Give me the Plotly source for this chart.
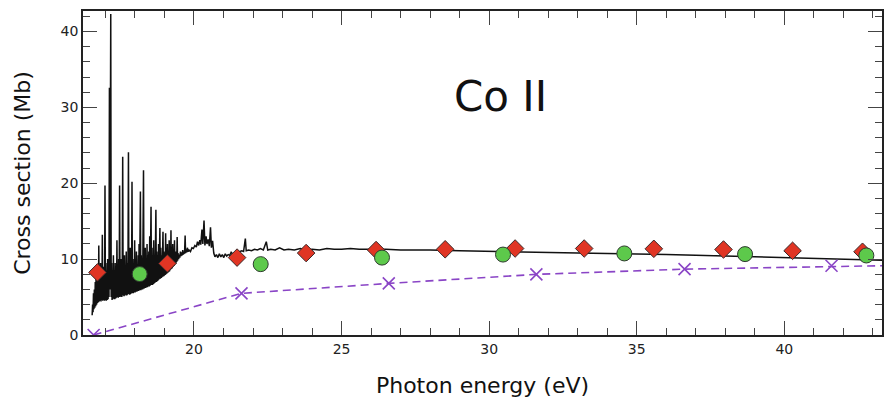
import plotly.graph_objects as go

# ---- Data ----
spec_x = [16.550, 16.565, 16.580, 16.595, 16.610, 16.625, 16.640, 16.655, 16.670, 16.685,
          16.700, 16.715, 16.730, 16.745, 16.760, 16.775, 16.790, 16.805, 16.820, 16.835,
          16.850, 16.865, 16.880, 16.895, 16.910, 16.925, 16.940, 16.955, 16.970, 16.985,
          17.000, 17.015, 17.030, 17.045, 17.060, 17.075, 17.090, 17.105, 17.120, 17.135,
          17.150, 17.165, 17.180, 17.195, 17.210, 17.225, 17.240, 17.255, 17.270, 17.285,
          17.300, 17.315, 17.330, 17.345, 17.360, 17.375, 17.390, 17.405, 17.420, 17.435,
          17.450, 17.465, 17.480, 17.495, 17.510, 17.525, 17.540, 17.555, 17.570, 17.585,
          17.600, 17.615, 17.630, 17.645, 17.660, 17.675, 17.690, 17.705, 17.720, 17.735,
          17.750, 17.765, 17.780, 17.795, 17.810, 17.825, 17.840, 17.855, 17.870, 17.885,
          17.900, 17.915, 17.930, 17.945, 17.960, 17.975, 17.990, 18.005, 18.020, 18.035,
          18.050, 18.065, 18.080, 18.095, 18.110, 18.125, 18.140, 18.155, 18.170, 18.185,
          18.200, 18.215, 18.230, 18.245, 18.260, 18.275, 18.290, 18.305, 18.320, 18.335,
          18.350, 18.365, 18.380, 18.395, 18.410, 18.425, 18.440, 18.455, 18.470, 18.485,
          18.500, 18.515, 18.530, 18.545, 18.560, 18.575, 18.590, 18.605, 18.620, 18.635,
          18.650, 18.665, 18.680, 18.695, 18.710, 18.725, 18.740, 18.755, 18.770, 18.785,
          18.800, 18.815, 18.830, 18.845, 18.860, 18.875, 18.890, 18.905, 18.920, 18.935,
          18.950, 18.965, 18.980, 18.995, 19.010, 19.025, 19.040, 19.055, 19.070, 19.085,
          19.100, 19.115, 19.130, 19.145, 19.160, 19.175, 19.190, 19.205, 19.220, 19.235,
          19.250, 19.265, 19.280, 19.295, 19.310, 19.325, 19.340, 19.355, 19.370, 19.385,
          19.400, 19.415, 19.430, 19.445, 19.460, 19.480, 19.500, 19.520, 19.540, 19.560,
          19.580, 19.600, 19.620, 19.640, 19.660, 19.680, 19.700, 19.715, 19.735, 19.755,
          19.775, 19.800, 19.830, 19.880, 19.930, 19.980, 20.030, 20.080, 20.120, 20.160,
          20.200, 20.230, 20.270, 20.300, 20.340, 20.370, 20.410, 20.440, 20.480, 20.520,
          20.560, 20.590, 20.630, 20.670, 20.710, 20.760, 20.810, 20.860, 20.910, 20.960,
          21.010, 21.060, 21.110, 21.160, 21.210, 21.260, 21.310, 21.360, 21.420, 21.480,
          21.550, 21.620, 21.680, 21.740, 21.770, 21.850, 21.950, 22.050, 22.150, 22.250,
          22.350, 22.450, 22.500, 22.600, 22.750, 22.900, 23.050, 23.200, 23.400, 23.600,
          23.800, 24.000, 24.250, 24.500, 24.750, 25.000, 25.300, 25.600, 26.000, 26.500,
          27.000, 27.500, 28.000, 29.000, 30.000, 31.000, 32.000, 33.000, 34.000, 35.000,
          36.000, 37.000, 38.000, 39.000, 40.000, 41.000, 42.000, 43.000, 43.400]
spec_y = [2.6, 4.0, 3.0, 5.5, 3.4, 6.0, 3.6, 7.0, 3.8, 8.5,
          4.0, 7.5, 4.2, 9.0, 4.3, 11.8, 4.4, 8.0, 4.5, 9.5,
          4.4, 7.5, 4.6, 13.2, 4.5, 9.0, 4.6, 8.0, 4.5, 19.7,
          4.6, 9.5, 4.5, 8.5, 4.6, 10.0, 4.7, 9.0, 5.0, 32.6,
          6.0, 28.0, 42.3, 5.0, 9.5, 4.6, 8.0, 4.7, 10.5, 4.8,
          8.5, 4.7, 9.5, 4.8, 8.0, 4.9, 12.5, 5.0, 9.0, 4.9,
          10.0, 5.0, 19.7, 5.0, 8.5, 5.1, 10.0, 5.0, 9.0, 23.5,
          5.2, 8.5, 5.1, 10.5, 5.2, 9.0, 5.3, 11.0, 5.2, 9.5,
          5.3, 10.0, 24.1, 5.4, 9.0, 5.3, 11.5, 5.4, 9.5, 5.5,
          20.2, 5.5, 10.0, 5.5, 9.0, 5.6, 12.5, 5.6, 9.5, 5.7,
          11.0, 5.7, 9.0, 5.8, 10.5, 5.8, 12.0, 5.9, 10.0, 18.9,
          5.9, 10.5, 6.0, 9.5, 6.0, 12.0, 21.7, 6.1, 10.0, 6.2,
          11.5, 6.2, 9.5, 6.3, 12.0, 6.3, 10.5, 6.4, 11.0, 6.4,
          13.0, 6.5, 10.0, 16.9, 6.6, 11.5, 6.6, 10.5, 6.7, 12.5,
          6.8, 10.0, 6.9, 12.0, 16.5, 7.0, 11.0, 7.1, 10.5, 7.2,
          12.0, 7.3, 11.0, 14.1, 7.4, 11.5, 7.5, 10.5, 7.6, 12.0,
          13.6, 7.7, 11.0, 7.8, 10.5, 7.9, 13.4, 8.0, 11.5, 8.1,
          12.0, 8.2, 10.8, 8.3, 12.5, 8.4, 11.0, 8.6, 13.8, 8.7,
          11.0, 8.8, 12.0, 9.0, 11.0, 9.1, 12.5, 9.3, 11.0, 9.4,
          10.5, 9.6, 12.9, 9.8, 10.8, 10.0, 10.6, 10.2, 11.0, 10.4,
          10.9, 10.5, 11.2, 10.6, 11.0, 10.7, 13.1, 10.8, 11.3, 10.9,
          11.5, 11.0, 11.2, 11.0, 11.5, 11.4, 11.8, 11.6, 12.3, 11.8,
          12.5, 11.9, 13.9, 12.0, 15.1, 11.8, 13.0, 12.0, 12.6, 11.7,
          14.2, 11.5, 12.4, 10.8, 10.3, 10.6, 10.2, 10.7, 10.3, 10.6,
          10.2, 10.7, 10.4, 10.6, 10.5, 10.9, 10.7, 10.8, 10.6, 10.9,
          11.0, 11.1, 11.0, 12.7, 11.1, 11.2, 11.1, 11.3, 11.2, 11.4,
          11.2, 12.3, 11.2, 11.3, 11.2, 11.5, 11.2, 11.3, 11.2, 11.4,
          11.2, 11.3, 11.2, 11.4, 11.3, 11.3, 11.4, 11.3, 11.3, 11.3,
          11.2, 11.2, 11.2, 11.1, 11.0, 10.95, 10.85, 10.8, 10.75, 10.7,
          10.6, 10.5, 10.4, 10.3, 10.2, 10.1, 10.0, 9.9, 9.85]

diamond_x = [16.73, 19.10, 21.46, 23.80, 26.17, 28.51, 30.88, 33.22, 35.58, 37.94, 40.28, 42.65]
diamond_y = [8.25, 9.43, 10.2, 10.8, 11.2, 11.3, 11.4, 11.4, 11.36, 11.27, 11.1, 10.97]

circle_x = [18.16, 22.26, 26.37, 30.47, 34.58, 38.67, 42.78]
circle_y = [8.03, 9.34, 10.2, 10.6, 10.75, 10.66, 10.48]

cross_x = [16.60, 21.61, 26.60, 31.60, 36.62, 41.60, 46.60]
cross_y = [0.0, 5.49, 6.8, 7.99, 8.68, 9.12, 9.35]

title_text = "Co II"
x_label = "Photon energy (eV)"
y_label = "Cross section (Mb)"

FONT = "DejaVu Sans"

fig = go.Figure()
fig.add_trace(go.Scatter(x=spec_x, y=spec_y, mode="lines",
                         line=dict(color="#111111", width=1.5), showlegend=False))
fig.add_trace(go.Scatter(x=cross_x, y=cross_y, mode="lines+markers",
                         line=dict(color="#8a45c6", width=1.6, dash="8px,5px"),
                         marker=dict(symbol="x-thin", size=12,
                                     line=dict(color="#8a45c6", width=1.6)),
                         cliponaxis=True, showlegend=False))
fig.add_trace(go.Scatter(x=diamond_x, y=diamond_y, mode="markers",
                         marker=dict(symbol="diamond", size=13.5, color="#e03524",
                                     line=dict(color="#3a2a2a", width=1)),
                         showlegend=False))
fig.add_trace(go.Scatter(x=circle_x, y=circle_y, mode="markers",
                         marker=dict(symbol="circle", size=15, color="#5dc94b",
                                     line=dict(color="#2f3a2f", width=1)),
                         showlegend=False))

fig.add_annotation(x=0.523, y=0.735, xref="paper", yref="paper",
                   text=title_text, showarrow=False,
                   xanchor="center", yanchor="middle",
                   font=dict(family=FONT, size=42, color="#111111"))

axis_common = dict(showgrid=False, zeroline=False, showline=True,
                   linecolor="#222222", linewidth=1.5, mirror="ticks",
                   ticks="inside", ticklen=14, tickwidth=1.3, tickcolor="#444444",
                   tickfont=dict(family=FONT, size=14, color="#222222"))

fig.update_xaxes(range=[16.24, 43.31], tick0=0, dtick=5,
                 minor=dict(dtick=1, ticks="inside", ticklen=7, tickcolor="#444444", tickwidth=1.2),
                 title=dict(text=x_label, font=dict(family=FONT, size=22, color="#111111"), standoff=22),
                 **axis_common)
fig.update_yaxes(range=[0, 42.7], tick0=0, dtick=10,
                 minor=dict(dtick=2, ticks="inside", ticklen=7, tickcolor="#444444", tickwidth=1.2),
                 title=dict(text=y_label, font=dict(family=FONT, size=22, color="#111111"), standoff=24),
                 **axis_common)

fig.update_layout(width=885, height=403, margin=dict(l=83, r=1, t=11, b=68),
                  plot_bgcolor="white", paper_bgcolor="white")

fig.write_html("out.html")
